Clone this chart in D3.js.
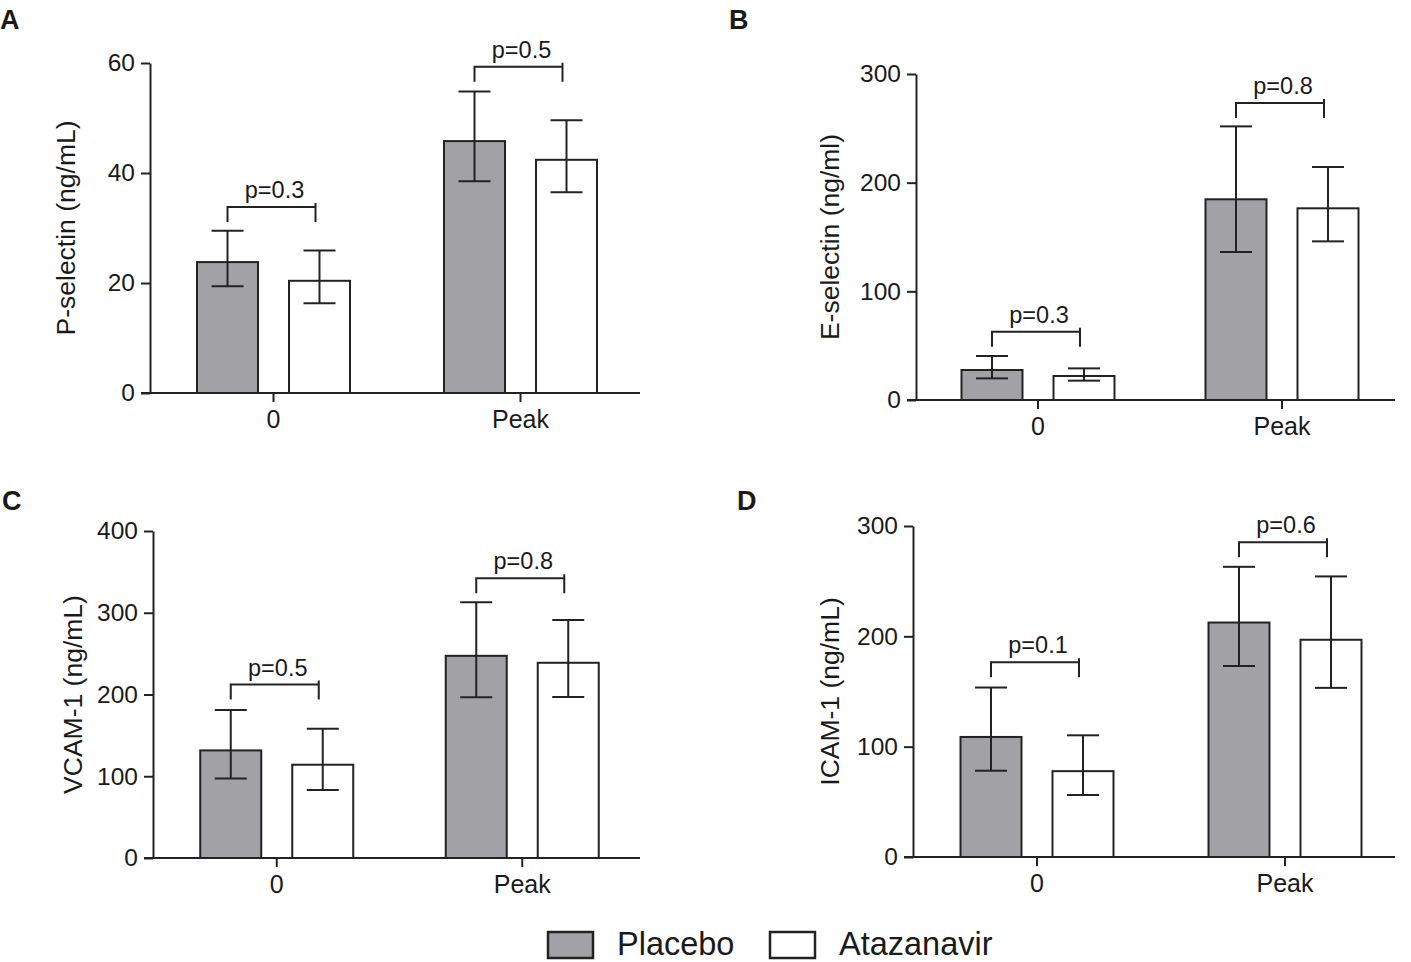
<!DOCTYPE html>
<html>
<head>
<meta charset="utf-8">
<script src="https://cdn.jsdelivr.net/npm/d3@7"></script>
<style>
  html, body { margin: 0; padding: 0; background: #fff; }
  svg text { font-family: "Liberation Sans", Arial, Helvetica, sans-serif; fill: #1a1a1a; }
</style>
</head>
<body>
<svg id="chart" width="1411" height="962"></svg>
<script>
// ---------- DATA ----------
const groups = ["0", "Peak"];
const seriesNames = ["Placebo", "Atazanavir"];
const seriesFill = ["#a2a2a6", "#ffffff"];

// values indexed [group][series]
const pSelMean = [[23.8, 20.4], [45.8, 42.4]];
const pSelLow  = [[19.4, 16.3], [38.5, 36.5]];
const pSelHigh = [[29.5, 25.9], [54.8, 49.6]];
const pSelBracket = [33.8, 59.3];
const pSelP = ["p=0.3", "p=0.5"];
const pSelTicks = [0, 20, 40, 60];

const eSelMean = [[27.6, 22.1], [184.7, 176.4]];
const eSelLow  = [[19.9, 17.8], [136.2, 146.0]];
const eSelHigh = [[40.5, 29.1], [251.8, 214.4]];
const eSelBracket = [62.9, 273.3];
const eSelP = ["p=0.3", "p=0.8"];
const eSelTicks = [0, 100, 200, 300];

const vcamMean = [[131.6, 114.1], [247.3, 238.8]];
const vcamLow  = [[97.1, 83.2], [196.5, 197.0]];
const vcamHigh = [[181.1, 158.0], [312.7, 291.2]];
const vcamBracket = [212.2, 342.3];
const vcamP = ["p=0.5", "p=0.8"];
const vcamTicks = [0, 100, 200, 300, 400];

const icamMean = [[108.8, 77.8], [212.5, 196.9]];
const icamLow  = [[78.2, 56.2], [173.1, 153.3]];
const icamHigh = [[153.6, 110.3], [263.0, 254.3]];
const icamBracket = [176.4, 285.2];
const icamP = ["p=0.1", "p=0.6"];
const icamTicks = [0, 100, 200, 300];

const panelLetters = ["A", "B", "C", "D"];
const yTitles = ["P-selectin (ng/mL)", "E-selectin (ng/ml)", "VCAM-1 (ng/mL)", "ICAM-1 (ng/mL)"];

// ---------- LAYOUT ----------
const layouts = [
  { letter: [0, 29],   axisX: 150, yTop: 63,  yBot: 393, xRange: [150, 644], axisEnd: 640,  titleX: 68,  max: 60 },
  { letter: [729, 29], axisX: 916, yTop: 74,  yBot: 400, xRange: [916, 1404], axisEnd: 1395, titleX: 832, max: 300 },
  { letter: [2, 510],  axisX: 153, yTop: 531, yBot: 858, xRange: [154, 645], axisEnd: 640,  titleX: 75,  max: 400 },
  { letter: [737, 510],axisX: 913, yTop: 526, yBot: 857, xRange: [913, 1409], axisEnd: 1395, titleX: 832, max: 300 }
];

const panels = [
  { mean: pSelMean, low: pSelLow, high: pSelHigh, bracket: pSelBracket, p: pSelP, ticks: pSelTicks },
  { mean: eSelMean, low: eSelLow, high: eSelHigh, bracket: eSelBracket, p: eSelP, ticks: eSelTicks },
  { mean: vcamMean, low: vcamLow, high: vcamHigh, bracket: vcamBracket, p: vcamP, ticks: vcamTicks },
  { mean: icamMean, low: icamLow, high: icamHigh, bracket: icamBracket, p: icamP, ticks: icamTicks }
];

const svg = d3.select("#chart");
const ink = "#222";
const lw = 2;
const fam = '"Liberation Sans", Arial, sans-serif';

panels.forEach((pd, i) => {
  const L = layouts[i];
  const g = svg.append("g");

  // panel letter
  g.append("text").attr("x", L.letter[0]).attr("y", L.letter[1])
    .attr("font-size", 27).attr("font-weight", "bold").text(panelLetters[i]);

  const y = d3.scaleLinear().domain([0, L.max]).range([L.yBot, L.yTop]);
  const x0 = d3.scaleBand().domain(groups).range(L.xRange).paddingInner(0).paddingOuter(0);
  const half = x0.bandwidth() / 2;
  const x1 = d3.scaleBand().domain(seriesNames)
    .range([half - 92, half + 92]).paddingInner(0.337).paddingOuter(0.1685);

  // y axis
  const yAxis = d3.axisLeft(y).tickValues(pd.ticks).tickSize(9).tickSizeOuter(0).tickPadding(6);
  const ya = g.append("g").attr("transform", `translate(${L.axisX},0)`).call(yAxis);
  ya.select(".domain").attr("stroke", ink).attr("stroke-width", lw);
  ya.selectAll(".tick line").attr("stroke", ink).attr("stroke-width", lw);
  ya.selectAll(".tick text").attr("font-size", 24.5).attr("fill", "#1a1a1a")
    .style("font-family", fam);

  // bars
  groups.forEach((grp, gi) => {
    seriesNames.forEach((s, si) => {
      const bx = x0(grp) + x1(s);
      const bw = x1.bandwidth();
      const v = pd.mean[gi][si];
      g.append("rect")
        .attr("x", bx).attr("y", y(v))
        .attr("width", bw).attr("height", y(0) - y(v))
        .attr("fill", seriesFill[si]).attr("stroke", ink).attr("stroke-width", lw);
    });
  });

  // error bars
  groups.forEach((grp, gi) => {
    seriesNames.forEach((s, si) => {
      const cx = x0(grp) + x1(s) + x1.bandwidth() / 2;
      const lo = pd.low[gi][si], hi = pd.high[gi][si];
      const capW = 16;
      g.append("line").attr("x1", cx).attr("x2", cx).attr("y1", y(lo)).attr("y2", y(hi))
        .attr("stroke", ink).attr("stroke-width", lw);
      [lo, hi].forEach(val => {
        g.append("line").attr("x1", cx - capW).attr("x2", cx + capW)
          .attr("y1", y(val)).attr("y2", y(val))
          .attr("stroke", ink).attr("stroke-width", lw);
      });
    });
  });

  // x axis
  const xAxis = d3.axisBottom(x0).tickSize(9).tickSizeOuter(0).tickPadding(8);
  const xa = g.append("g").attr("transform", `translate(0,${L.yBot})`).call(xAxis);
  xa.select(".domain").remove();
  xa.selectAll(".tick line").attr("stroke", ink).attr("stroke-width", lw);
  xa.selectAll(".tick text").attr("font-size", 25).attr("fill", "#1a1a1a")
    .style("font-family", fam);
  g.append("line").attr("x1", L.axisX - 9).attr("x2", L.axisEnd)
    .attr("y1", L.yBot).attr("y2", L.yBot).attr("stroke", ink).attr("stroke-width", lw);

  // significance brackets
  groups.forEach((grp, gi) => {
    const xl = x0(grp) + x1(seriesNames[0]) + x1.bandwidth() / 2;
    const xr = x0(grp) + x1(seriesNames[1]) + x1.bandwidth() / 2 - 4;
    const by = y(pd.bracket[gi]);
    g.append("path")
      .attr("d", `M${xl},${by + 15} L${xl},${by} L${xr},${by} M${xr},${by - 4} L${xr},${by + 15}`)
      .attr("fill", "none").attr("stroke", ink).attr("stroke-width", lw);
    g.append("text").attr("x", (xl + xr) / 2 + 3).attr("y", by - 9)
      .attr("text-anchor", "middle").attr("font-size", 23.5).text(pd.p[gi]);
  });

  // y title
  const cy = (L.yTop + L.yBot) / 2;
  g.append("text")
    .attr("transform", `translate(${L.titleX},${cy}) rotate(-90)`)
    .attr("text-anchor", "middle").attr("dominant-baseline", "middle")
    .attr("font-size", 26.5).text(yTitles[i]);
});

// ---------- LEGEND ----------
const legendX = [548, 770];
const leg = svg.append("g");
seriesNames.forEach((s, si) => {
  leg.append("rect").attr("x", legendX[si]).attr("y", 932)
    .attr("width", 45).attr("height", 26)
    .attr("fill", seriesFill[si]).attr("stroke", ink).attr("stroke-width", 2.5);
  leg.append("text").attr("x", legendX[si] + 69).attr("y", 955)
    .attr("font-size", 32.5).text(s);
});
</script>
</body>
</html>
